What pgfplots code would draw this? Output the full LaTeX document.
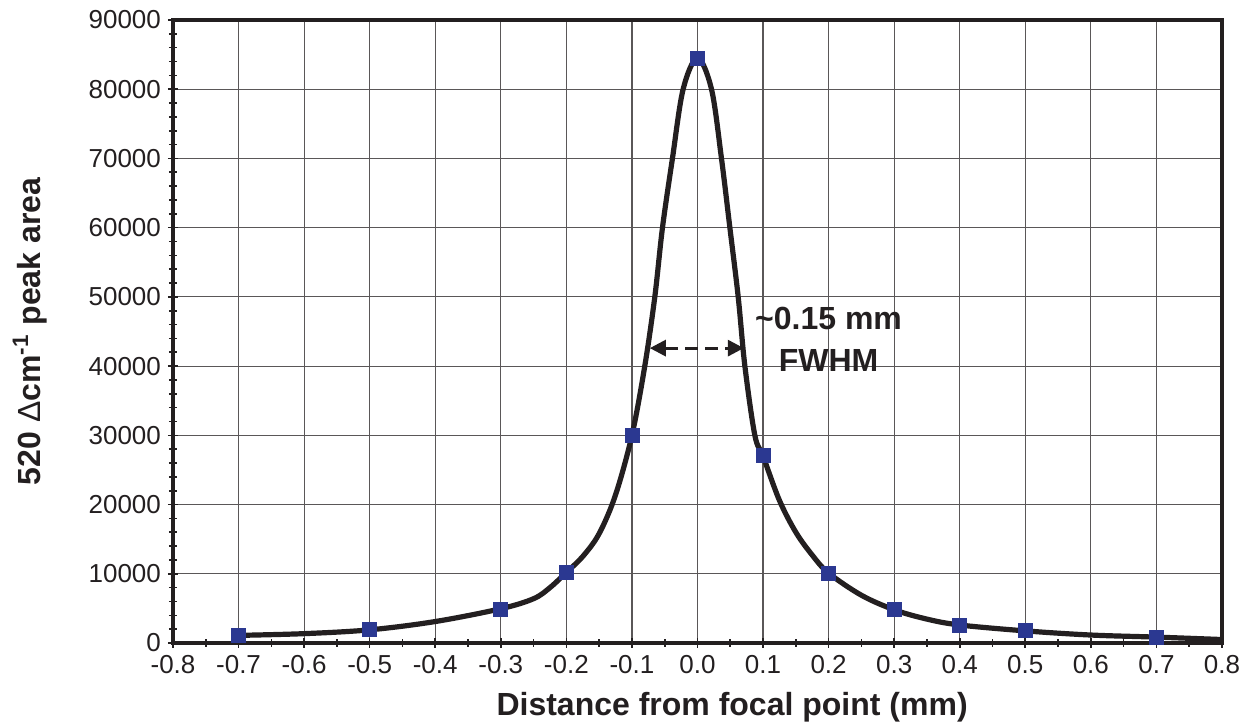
\documentclass[border=0pt]{standalone}
\usepackage{fontspec}
\setmainfont{Liberation Sans}
\usepackage{pgfplots}
\pgfplotsset{compat=1.18}
\usetikzlibrary{arrows.meta}
\definecolor{ink}{RGB}{35,31,32}
\definecolor{markblue}{RGB}{43,56,145}

\begin{document}
\begin{tikzpicture}
\useasboundingbox (-86.5pt,-42pt) rectangle (537.5pt,321.5pt);
\begin{axis}[
  at={(0,0)}, anchor=south west,
  scale only axis, width=524.5pt, height=311.5pt,
  xmin=-0.8, xmax=0.8, ymin=0, ymax=90000,
  xtick={-0.8,-0.7,-0.6,-0.5,-0.4,-0.3,-0.2,-0.1,0,0.1,0.2,0.3,0.4,0.5,0.6,0.7,0.8},
  ytick={0,10000,20000,30000,40000,50000,60000,70000,80000,90000},
  minor x tick num=1, minor y tick num=4,
  tick pos=left,
  tick align=center, major tick length=5pt, minor tick length=4pt,
  tick style={ink, line width=0.8pt},
  grid=major, major grid style={ink!75, line width=0.6pt},
  axis line style={ink, line width=2.2pt},
  scaled y ticks=false,
  /pgf/number format/assume math mode=true,
  xticklabel style={/pgf/number format/.cd, fixed, fixed zerofill, precision=1},
  yticklabel style={/pgf/number format/.cd, fixed, 1000 sep={}},
  ticklabel style={font=\fontsize{13}{15}\selectfont, text=ink},
  xlabel={Distance from focal point (mm)},
  ylabel={520 {\mdseries Δ}cm\textsuperscript{-1} peak area},
  label style={font=\fontsize{16}{18}\selectfont\bfseries, text=ink},
  xlabel style={at={(axis description cs:0.533,-0.1027)}, anchor=center},
  ylabel style={at={(axis description cs:-0.1363,0.5)}, anchor=center},
  clip=false,
]
% fitted curve
\addplot[ink, line width=2.6pt, smooth, tension=0.55] coordinates {
  (-0.7,1100) (-0.6,1350) (-0.5,1900) (-0.4,3100) (-0.3,4950) (-0.25,6400)
  (-0.225,8000) (-0.2,10200) (-0.175,12500) (-0.15,15800) (-0.125,21400)
  (-0.1,30000) (-0.0804,40000) (-0.0651,50000) (-0.0534,60000) (-0.0382,70000)
  (-0.0219,80000) (0,84500) (0.0214,80000)
  (0.0366,70000) (0.0494,60000) (0.0621,50000) (0.0723,40000) (0.0875,30000)
  (0.1,27000) (0.125,20600) (0.15,16000) (0.175,12700) (0.2,10100) (0.25,6900)
  (0.3,4800) (0.35,3450) (0.4,2600) (0.5,1750) (0.6,1150) (0.7,850) (0.8,500)
};
% measured points
\addplot[only marks, mark=square*, mark size=3.5pt, color=markblue] coordinates {
  (-0.7,1100) (-0.5,1900) (-0.3,4900) (-0.2,10200) (-0.1,30000) (0,84500)
  (0.1,27100) (0.2,10100) (0.3,4800) (0.4,2600) (0.5,1750) (0.7,850)
};
\draw[ink, line width=1.5pt, dash pattern=on 6.5pt off 3.5pt,
  {Triangle[length=8pt,width=8pt]}-{Triangle[length=8pt,width=8pt]}]
  (axis cs:-0.0727,42600) -- (axis cs:0.0707,42600);
\node[font=\fontsize{16}{18}\selectfont\bfseries, text=ink] at (axis cs:0.2,46950) {\textasciitilde0.15 mm};
\node[font=\fontsize{16}{18}\selectfont\bfseries, text=ink] at (axis cs:0.2,40880) {FWHM};
\end{axis}
\end{tikzpicture}
\end{document}
